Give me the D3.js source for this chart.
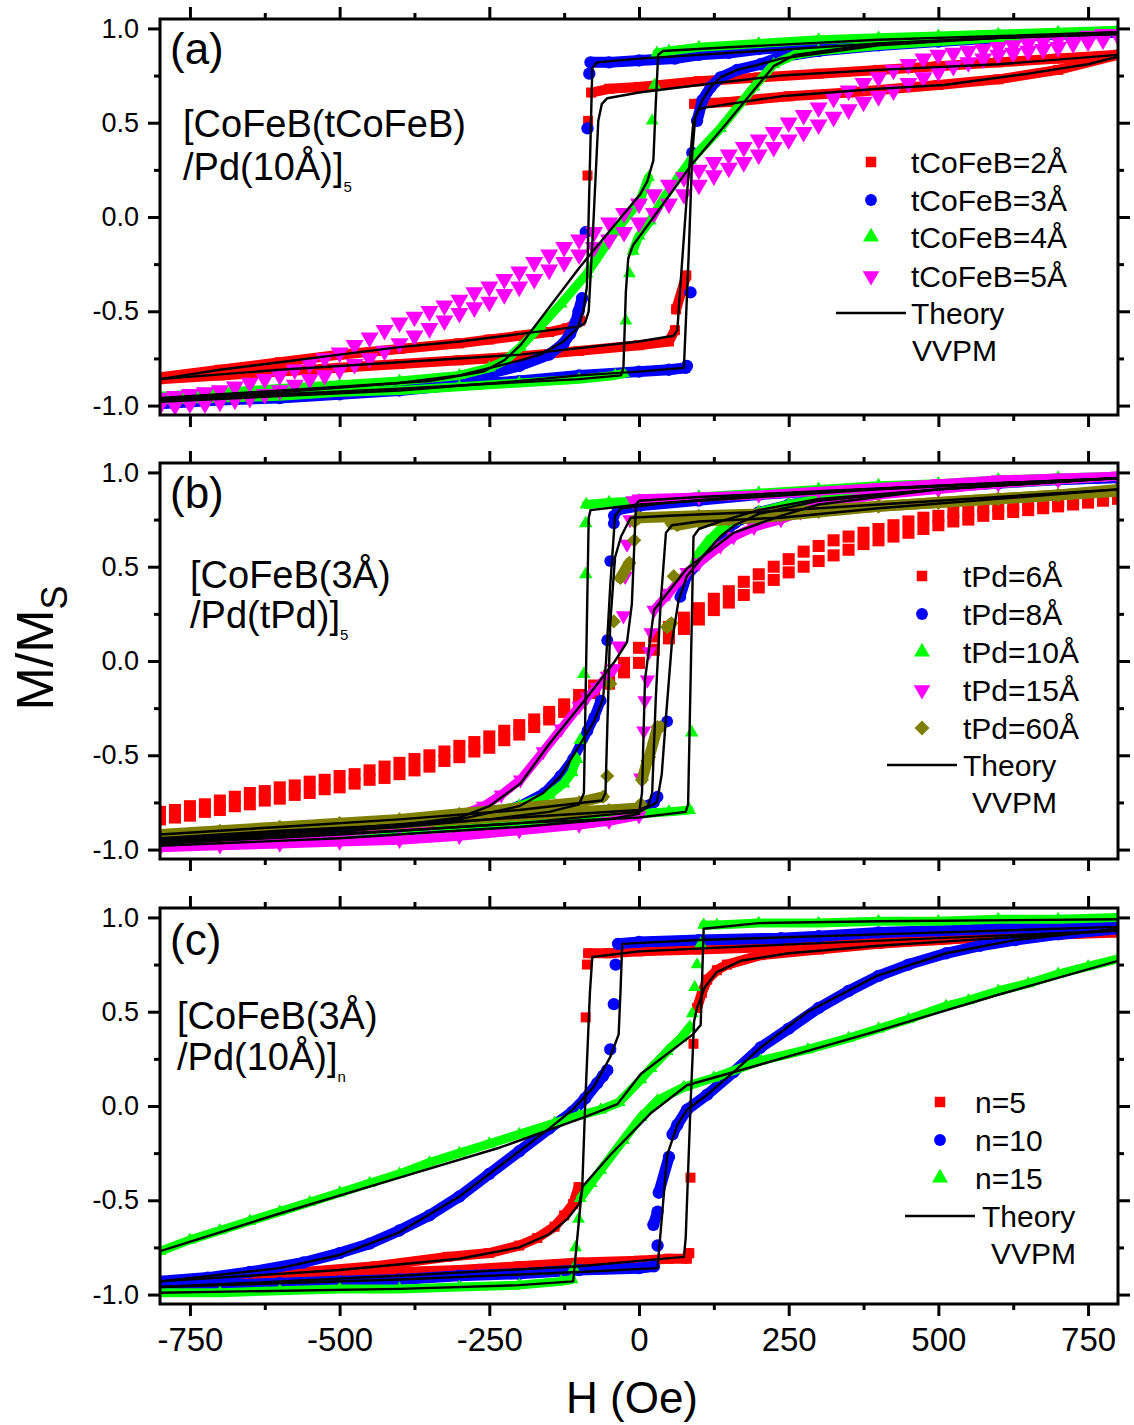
<!DOCTYPE html>
<html><head><meta charset="utf-8">
<script src="https://cdn.jsdelivr.net/npm/d3@7"></script>
<style>
body{margin:0;background:#fff}
svg{display:block}
text{font-family:"Liberation Sans",Arial,Helvetica,sans-serif;fill:#000}
</style>
</head><body><svg id="chart" width="1134" height="1425"></svg>
<script>
// ---------- axis / tick values ----------
const xTickValues = [-750,-500,-250,0,250,500,750];
const xTickLabels = ["-750","-500","-250","0","250","500","750"];
const xMinorValues = [-625,-375,-125,125,375,625];
const yTickValues = [-1.0,-0.5,0.0,0.5,1.0];
const yTickLabels = ["-1.0","-0.5","0.0","0.5","1.0"];
const yMinorValues = [-0.75,-0.25,0.25,0.75];

// ---------- field grid for sparsely sampled sets (Oe) ----------
const hGrid25 = [-800,-775,-750,-725,-700,-675,-650,-625,-600,-575,-550,-525,-500,
 -475,-450,-425,-400,-375,-350,-325,-300,-275,-250,-225,-200,-175,
 -150,-125,-100,-75,-50,-25,0,25,50,75,100,125,150,
 175,200,225,250,275,300,325,350,375,400,425,450,475,
 500,525,550,575,600,625,650,675,700,725,750,775,800];

// ---------- panel (a): [CoFeB(tCoFeB)/Pd(10Å)]5 ----------
const aRedDesc = [[800,0.86],[700,0.84],[600,0.82],[500,0.80],[400,0.78],[300,0.76],[200,0.74],[100,0.72],[0,0.69],[-50,0.68],[-80,0.66],[-85,0.51],[-86,0.22],[-98,-0.55],[-120,-0.59],[-150,-0.61],[-200,-0.63],[-250,-0.65],[-300,-0.67],[-400,-0.70],[-500,-0.73],[-600,-0.77],[-700,-0.81],[-800,-0.85]];
const aRedAsc = [[-800,-0.86],[-700,-0.84],[-600,-0.82],[-500,-0.80],[-400,-0.78],[-300,-0.76],[-200,-0.74],[-100,-0.71],[0,-0.68],[50,-0.66],[60,-0.60],[62,-0.49],[79,-0.31],[92,0.60],[150,0.61],[250,0.64],[350,0.66],[500,0.70],[600,0.73],[700,0.78],[800,0.86]];
const aBlueDesc = [[800,0.98],[700,0.97],[600,0.96],[500,0.94],[400,0.93],[300,0.91],[250,0.90],[200,0.89],[150,0.87],[100,0.86],[60,0.84],[0,0.83],[-50,0.82],[-81,0.82],[-83,0.76],[-86,0.47],[-89,-0.08],[-95,-0.43],[-101,-0.50],[-106,-0.56],[-115,-0.62],[-126,-0.67],[-150,-0.73],[-200,-0.79],[-250,-0.83],[-300,-0.86],[-400,-0.89],[-500,-0.91],[-600,-0.93],[-700,-0.95],[-800,-0.97]];
const aBlueAsc = [[-800,-0.99],[-700,-0.97],[-600,-0.96],[-500,-0.94],[-400,-0.92],[-300,-0.89],[-200,-0.87],[-100,-0.84],[0,-0.82],[50,-0.81],[78,-0.80],[80,-0.79],[86,-0.40],[89,0.34],[97,0.51],[106,0.62],[120,0.69],[136,0.74],[164,0.78],[203,0.81],[237,0.85],[300,0.88],[400,0.91],[500,0.93],[600,0.95],[700,0.97],[800,0.98]];
const aGreenDesc = [[800,0.99],[700,0.98],[600,0.97],[500,0.96],[400,0.95],[300,0.94],[200,0.92],[100,0.90],[50,0.88],[30,0.87],[26,0.70],[22,0.51],[16,0.21],[2,0.09],[-40,-0.08],[-87,-0.30],[-130,-0.46],[-165,-0.58],[-198,-0.69],[-223,-0.76],[-250,-0.80],[-300,-0.84],[-400,-0.87],[-500,-0.89],[-600,-0.91],[-700,-0.93],[-800,-0.95]];
const aGreenAsc = [[-800,-0.97],[-700,-0.96],[-600,-0.95],[-500,-0.93],[-400,-0.92],[-300,-0.90],[-200,-0.88],[-100,-0.86],[-40,-0.84],[-26,-0.83],[-22,-0.55],[-16,-0.30],[-10,-0.18],[0,-0.10],[19,-0.02],[41,0.10],[86,0.30],[136,0.47],[192,0.69],[225,0.81],[260,0.86],[300,0.88],[400,0.91],[500,0.93],[600,0.95],[700,0.97],[800,0.99]];
const aMagDescM = [-0.96,-0.95,-0.94,-0.93,-0.92,-0.90,-0.88,-0.86,-0.84,-0.81,-0.78,-0.75,-0.72,
 -0.68,-0.64,-0.60,-0.56,-0.53,-0.50,-0.47,-0.44,-0.40,-0.37,-0.33,-0.29,-0.24,
 -0.20,-0.16,-0.12,-0.08,-0.03,0.02,0.07,0.12,0.17,0.21,0.25,0.29,0.33,
 0.37,0.41,0.45,0.50,0.54,0.58,0.63,0.67,0.71,0.74,0.78,0.81,0.84,
 0.86,0.87,0.88,0.89,0.90,0.91,0.92,0.93,0.94,0.95,0.96,0.97,0.97];
const aMagAscM = [-1.00,-1.00,-0.99,-0.99,-0.98,-0.97,-0.96,-0.94,-0.92,-0.89,-0.86,-0.84,-0.81,
 -0.78,-0.75,-0.71,-0.67,-0.63,-0.59,-0.55,-0.51,-0.48,-0.45,-0.41,-0.37,-0.33,
 -0.28,-0.24,-0.20,-0.16,-0.12,-0.08,-0.03,0.02,0.07,0.12,0.17,0.22,0.26,
 0.29,0.33,0.37,0.41,0.45,0.49,0.53,0.57,0.61,0.64,0.67,0.71,0.74,
 0.77,0.80,0.82,0.84,0.86,0.87,0.88,0.89,0.90,0.92,0.93,0.94,0.96];
// VVPM theory, panel (a)
const aRedThDesc = [[800,0.86],[600,0.81],[400,0.78],[237,0.75],[100,0.70],[0,0.66],[-53,0.63],[-62,0.60],[-68,0.51],[-76,-0.02],[-84,-0.50],[-90,-0.56],[-98,-0.58],[-198,-0.62],[-300,-0.66],[-400,-0.69],[-500,-0.73],[-600,-0.77],[-700,-0.81],[-800,-0.86]];
const aRedThAsc = [[-800,-0.86],[-600,-0.81],[-400,-0.77],[-198,-0.73],[0,-0.66],[58,-0.63],[64,-0.60],[69,-0.37],[81,0.16],[91,0.51],[100,0.57],[110,0.58],[237,0.64],[400,0.68],[509,0.70],[650,0.76],[750,0.81],[800,0.85]];
const aBlueThDesc = [[800,0.97],[600,0.95],[400,0.92],[200,0.88],[100,0.86],[0,0.84],[-70,0.82],[-78,0.79],[-87,-0.37],[-93,-0.50],[-103,-0.59],[-126,-0.66],[-165,-0.73],[-198,-0.76],[-300,-0.84],[-400,-0.88],[-600,-0.93],[-800,-0.97]];
const aBlueThAsc = [[-800,-0.98],[-600,-0.95],[-400,-0.92],[-200,-0.87],[-100,-0.84],[0,-0.82],[75,-0.80],[83,-0.20],[89,0.34],[94,0.53],[106,0.62],[120,0.69],[136,0.74],[164,0.78],[203,0.81],[237,0.84],[400,0.91],[600,0.95],[800,0.97]];
const aGreenThDesc = [[800,0.98],[400,0.94],[150,0.90],[40,0.88],[32,0.86],[28,0.60],[24,0.30],[14,0.19],[2,0.12],[-40,-0.04],[-100,-0.27],[-198,-0.68],[-225,-0.76],[-260,-0.82],[-350,-0.87],[-800,-0.96]];
const aGreenThAsc = [[-800,-0.97],[-400,-0.91],[-100,-0.86],[-30,-0.84],[-26,-0.80],[-22,-0.40],[-18,-0.22],[-10,-0.15],[20,-0.02],[86,0.27],[150,0.51],[225,0.80],[260,0.86],[400,0.92],[800,0.98]];

// ---------- panel (b): [CoFeB(3Å)/Pd(tPd)]5 ----------
const bRedDescM = [-0.80,-0.79,-0.77,-0.76,-0.74,-0.72,-0.70,-0.69,-0.67,-0.66,-0.64,-0.63,-0.61,
 -0.60,-0.58,-0.56,-0.54,-0.52,-0.50,-0.48,-0.45,-0.43,-0.40,-0.37,-0.34,-0.31,
 -0.27,-0.23,-0.18,-0.13,-0.08,-0.01,0.07,0.13,0.18,0.23,0.28,0.33,0.37,
 0.42,0.46,0.50,0.54,0.58,0.61,0.64,0.66,0.68,0.70,0.72,0.74,0.76,
 0.77,0.79,0.80,0.81,0.82,0.83,0.84,0.84,0.85,0.85,0.86,0.87,0.88];
const bRedAscM = [-0.84,-0.83,-0.82,-0.80,-0.79,-0.77,-0.76,-0.74,-0.73,-0.71,-0.70,-0.68,-0.67,
 -0.65,-0.63,-0.62,-0.60,-0.58,-0.56,-0.53,-0.51,-0.48,-0.46,-0.42,-0.39,-0.35,
 -0.31,-0.27,-0.22,-0.17,-0.12,-0.06,-0.01,0.06,0.12,0.17,0.22,0.27,0.31,
 0.35,0.39,0.43,0.47,0.50,0.53,0.56,0.59,0.62,0.64,0.66,0.68,0.70,
 0.72,0.74,0.75,0.77,0.78,0.79,0.80,0.81,0.82,0.83,0.84,0.85,0.86];
const bBlueDesc = [[800,0.97],[700,0.96],[600,0.95],[500,0.93],[400,0.92],[300,0.90],[200,0.88],[100,0.85],[0,0.82],[-35,0.80],[-42,0.77],[-42,0.73],[-48,0.53],[-53,0.11],[-64,-0.21],[-75,-0.30],[-86,-0.37],[-110,-0.52],[-131,-0.61],[-158,-0.70],[-200,-0.77],[-250,-0.81],[-300,-0.84],[-400,-0.87],[-500,-0.89],[-600,-0.91],[-700,-0.93],[-800,-0.95]];
const bBlueAsc = [[-800,-0.97],[-700,-0.95],[-600,-0.93],[-500,-0.91],[-400,-0.89],[-300,-0.87],[-200,-0.85],[-100,-0.82],[0,-0.78],[25,-0.75],[31,-0.72],[47,-0.32],[69,0.34],[80,0.45],[108,0.55],[136,0.66],[160,0.73],[200,0.79],[250,0.83],[300,0.86],[400,0.89],[500,0.92],[600,0.94],[700,0.96],[800,0.97]];
const bGreenDesc = [[800,0.98],[700,0.97],[600,0.96],[500,0.94],[400,0.93],[300,0.91],[200,0.89],[100,0.87],[0,0.85],[-50,0.84],[-88,0.83],[-89,0.73],[-89,0.46],[-92,-0.07],[-98,-0.42],[-104,-0.52],[-112,-0.59],[-126,-0.65],[-150,-0.71],[-200,-0.77],[-250,-0.80],[-300,-0.83],[-400,-0.86],[-500,-0.89],[-600,-0.91],[-700,-0.93],[-800,-0.95]];
const bGreenAsc = [[-800,-0.97],[-700,-0.95],[-600,-0.93],[-500,-0.91],[-400,-0.89],[-300,-0.87],[-200,-0.85],[-100,-0.83],[0,-0.81],[50,-0.80],[84,-0.79],[88,-0.38],[93,0.52],[100,0.57],[114,0.63],[136,0.70],[158,0.74],[200,0.79],[250,0.83],[300,0.86],[400,0.89],[500,0.92],[600,0.94],[700,0.96],[800,0.98]];
const bMagDesc = [[800,0.98],[700,0.97],[600,0.96],[500,0.94],[400,0.92],[300,0.90],[200,0.88],[100,0.87],[0,0.86],[-10,0.85],[-15,0.75],[-20,0.62],[-23,0.45],[-26,0.24],[-34,0.08],[-42,-0.04],[-53,-0.08],[-70,-0.14],[-86,-0.19],[-100,-0.24],[-130,-0.36],[-160,-0.48],[-198,-0.63],[-230,-0.71],[-260,-0.77],[-300,-0.82],[-350,-0.86],[-400,-0.88],[-500,-0.91],[-600,-0.93],[-700,-0.94],[-800,-0.96]];
const bMagAsc = [[-800,-0.99],[-700,-0.98],[-600,-0.97],[-500,-0.96],[-400,-0.95],[-300,-0.93],[-200,-0.90],[-100,-0.87],[-50,-0.85],[0,-0.82],[3,-0.62],[8,-0.37],[10,-0.21],[14,-0.10],[17,0.05],[20,0.15],[25,0.27],[50,0.36],[80,0.47],[100,0.52],[136,0.61],[158,0.66],[192,0.71],[237,0.75],[270,0.79],[300,0.83],[400,0.88],[500,0.91],[600,0.94],[700,0.96],[800,0.98]];
const bOliveDesc = [[800,0.90],[700,0.88],[600,0.86],[500,0.84],[400,0.82],[300,0.80],[200,0.78],[100,0.77],[0,0.76],[-8,0.74],[-8,0.64],[-16,0.52],[-31,0.44],[-42,0.21],[-48,-0.12],[-53,-0.61],[-60,-0.72],[-100,-0.75],[-200,-0.78],[-300,-0.81],[-400,-0.84],[-500,-0.86],[-600,-0.88],[-700,-0.90],[-800,-0.92]];
const bOliveAsc = [[-800,-0.94],[-700,-0.92],[-600,-0.90],[-500,-0.88],[-400,-0.86],[-300,-0.84],[-200,-0.82],[-100,-0.80],[-50,-0.79],[0,-0.78],[3,-0.76],[5,-0.63],[14,-0.53],[17,-0.51],[31,-0.35],[36,-0.35],[47,0.18],[54,0.20],[58,0.45],[54,0.73],[64,0.72],[100,0.74],[150,0.75],[237,0.77],[300,0.79],[400,0.82],[500,0.84],[600,0.86],[700,0.88],[800,0.91]];
// VVPM theory, panel (b)
const bBlueThDesc = [[800,0.97],[500,0.93],[200,0.88],[50,0.84],[-30,0.81],[-40,0.77],[-48,0.40],[-55,0.0],[-60,-0.20],[-75,-0.32],[-100,-0.45],[-131,-0.61],[-160,-0.70],[-200,-0.77],[-300,-0.84],[-500,-0.89],[-800,-0.95]];
const bBlueThAsc = [[-800,-0.97],[-500,-0.92],[-200,-0.86],[0,-0.80],[30,-0.75],[38,-0.60],[45,-0.30],[55,0.10],[66,0.32],[80,0.45],[108,0.56],[136,0.66],[160,0.72],[200,0.78],[300,0.85],[500,0.91],[800,0.97]];
const bGreenThDesc = [[800,0.97],[600,0.94],[400,0.91],[200,0.87],[0,0.83],[-81,0.80],[-84,0.76],[-92,-0.70],[-100,-0.76],[-150,-0.80],[-250,-0.84],[-400,-0.88],[-600,-0.92],[-800,-0.95]];
const bGreenThAsc = [[-800,-0.97],[-600,-0.93],[-400,-0.90],[-200,-0.86],[0,-0.83],[78,-0.80],[82,-0.76],[91,0.66],[100,0.70],[136,0.74],[200,0.80],[300,0.86],[500,0.91],[800,0.97]];
const bMagThDesc = [[800,0.97],[500,0.93],[300,0.90],[100,0.87],[0,0.85],[-5,0.83],[-12,0.30],[-20,0.10],[-40,0.0],[-86,-0.19],[-150,-0.44],[-198,-0.65],[-250,-0.77],[-300,-0.83],[-500,-0.91],[-800,-0.96]];
const bMagThAsc = [[-800,-0.98],[-500,-0.94],[-200,-0.88],[-50,-0.84],[0,-0.81],[5,-0.70],[10,-0.10],[25,0.27],[80,0.49],[158,0.68],[237,0.77],[300,0.83],[500,0.91],[800,0.97]];
const bOliveThDesc = [[800,0.91],[600,0.87],[400,0.83],[200,0.79],[50,0.77],[-14,0.76],[-30,0.66],[-40,0.55],[-48,0.20],[-56,-0.70],[-62,-0.74],[-200,-0.79],[-400,-0.84],[-600,-0.88],[-800,-0.92]];
const bOliveThAsc = [[-800,-0.94],[-600,-0.90],[-400,-0.87],[-200,-0.83],[0,-0.79],[15,-0.77],[22,-0.70],[28,-0.20],[36,0.30],[45,0.68],[55,0.72],[100,0.74],[237,0.76],[400,0.81],[600,0.86],[800,0.91]];

// ---------- panel (c): [CoFeB(3Å)/Pd(10Å)]n ----------
const cRedDesc = [[800,0.93],[700,0.91],[600,0.90],[500,0.88],[400,0.87],[300,0.85],[200,0.84],[100,0.83],[0,0.82],[-50,0.81],[-85,0.81],[-87,0.75],[-89,0.47],[-101,-0.43],[-110,-0.52],[-125,-0.58],[-141,-0.64],[-170,-0.70],[-200,-0.74],[-250,-0.78],[-320,-0.80],[-440,-0.85],[-560,-0.88],[-680,-0.91],[-800,-0.94]];
const cRedAsc = [[-800,-0.96],[-700,-0.94],[-600,-0.92],[-500,-0.90],[-400,-0.88],[-300,-0.87],[-200,-0.85],[-100,-0.83],[0,-0.82],[50,-0.81],[80,-0.81],[84,-0.78],[86,-0.38],[91,0.33],[97,0.52],[105,0.60],[114,0.67],[130,0.72],[147,0.75],[203,0.80],[300,0.83],[400,0.86],[500,0.88],[600,0.90],[700,0.91],[800,0.92]];
const cBlueDesc = [[800,0.96],[700,0.95],[600,0.94],[500,0.93],[400,0.92],[300,0.90],[237,0.89],[100,0.88],[0,0.87],[-35,0.86],[-39,0.75],[-42,0.54],[-48,0.30],[-53,0.19],[-60,0.16],[-70,0.12],[-90,0.04],[-111,-0.03],[-150,-0.12],[-200,-0.24],[-250,-0.36],[-300,-0.48],[-350,-0.58],[-400,-0.66],[-450,-0.73],[-500,-0.78],[-560,-0.83],[-650,-0.88],[-720,-0.91],[-800,-0.93]];
const cBlueAsc = [[-800,-0.96],[-700,-0.95],[-600,-0.94],[-500,-0.93],[-400,-0.92],[-300,-0.90],[-200,-0.89],[-100,-0.87],[0,-0.86],[25,-0.85],[31,-0.74],[24,-0.63],[31,-0.56],[33,-0.46],[50,-0.27],[56,-0.15],[64,-0.10],[80,-0.02],[114,0.06],[158,0.18],[203,0.31],[250,0.41],[300,0.52],[350,0.61],[400,0.69],[450,0.75],[513,0.81],[570,0.85],[628,0.88],[700,0.91],[800,0.94]];
const cGreenDesc = [[800,1.00],[700,0.99],[600,0.99],[500,0.98],[400,0.98],[300,0.97],[200,0.97],[130,0.96],[108,0.96],[103,0.86],[97,0.75],[93,0.63],[89,0.49],[85,0.42],[70,0.36],[47,0.29],[20,0.20],[3,0.14],[-33,0.02],[-64,-0.02],[-100,-0.05],[-141,-0.09],[-200,-0.15],[-250,-0.20],[-300,-0.25],[-350,-0.30],[-400,-0.36],[-450,-0.41],[-500,-0.46],[-550,-0.51],[-600,-0.56],[-650,-0.61],[-700,-0.66],[-750,-0.71],[-800,-0.77]];
const cGreenAsc = [[-800,-0.99],[-700,-0.99],[-600,-0.98],[-500,-0.97],[-400,-0.97],[-300,-0.96],[-200,-0.95],[-130,-0.93],[-112,-0.92],[-109,-0.86],[-106,-0.75],[-101,-0.60],[-98,-0.49],[-80,-0.41],[-64,-0.34],[-26,-0.18],[3,-0.06],[31,0.03],[75,0.10],[125,0.15],[203,0.24],[282,0.30],[350,0.36],[400,0.41],[450,0.46],[513,0.53],[550,0.56],[600,0.61],[650,0.65],[700,0.70],[750,0.74],[800,0.78]];
// VVPM theory, panel (c)
const cRedThDesc = [[800,0.93],[500,0.89],[200,0.85],[0,0.82],[-78,0.79],[-82,0.60],[-90,0.0],[-95,-0.45],[-100,-0.52],[-120,-0.60],[-150,-0.68],[-200,-0.75],[-300,-0.81],[-500,-0.87],[-800,-0.93]];
const cRedThAsc = [[-800,-0.96],[-400,-0.90],[-100,-0.85],[75,-0.80],[78,-0.70],[86,0.0],[92,0.45],[97,0.52],[110,0.63],[130,0.71],[170,0.77],[250,0.81],[400,0.85],[600,0.89],[800,0.93]];
const cBlueThDesc = [[800,0.95],[400,0.91],[100,0.88],[-28,0.86],[-31,0.60],[-34,0.38],[-48,0.26],[-76,0.10],[-111,-0.02],[-150,-0.12],[-200,-0.24],[-300,-0.48],[-400,-0.67],[-500,-0.79],[-600,-0.86],[-800,-0.93]];
const cBlueThAsc = [[-800,-0.96],[-400,-0.92],[-100,-0.88],[31,-0.86],[47,-0.26],[64,-0.10],[80,-0.02],[114,0.06],[158,0.18],[203,0.31],[282,0.50],[397,0.69],[513,0.81],[628,0.88],[800,0.94]];
const cGreenThDesc = [[800,0.99],[400,0.98],[200,0.97],[108,0.94],[103,0.43],[90,0.38],[3,0.17],[-36,0.01],[-92,-0.06],[-232,-0.22],[-400,-0.38],[-600,-0.57],[-800,-0.77]];
const cGreenThAsc = [[-800,-0.99],[-400,-0.97],[-200,-0.95],[-110,-0.93],[-95,-0.43],[-48,-0.26],[19,-0.04],[80,0.11],[203,0.22],[400,0.40],[600,0.59],[800,0.77]];

// ---------- legends ----------
const aLegend = ["tCoFeB=2Å","tCoFeB=3Å","tCoFeB=4Å","tCoFeB=5Å"];
const bLegend = ["tPd=6Å","tPd=8Å","tPd=10Å","tPd=15Å","tPd=60Å"];
const cLegend = ["n=5","n=10","n=15"];

// ================= drawing =================
const RED="#ff0000", BLUE="#0000ff", GREEN="#00ff00", MAG="#ff00ff", OLIVE="#808000";
const gridPairs = (ms) => hGrid25.map((h,i)=>[h, ms[i]]);

const svg = d3.select("#chart");
const x = d3.scaleLinear().domain([-800,800]).range([160,1118]);
const PH = 396;

const shapes = {
  square:{type:d3.symbolSquare, rot:0},
  circle:{type:d3.symbolCircle, rot:0},
  triangle:{type:d3.symbolTriangle, rot:0},
  down:{type:d3.symbolTriangle, rot:180},
  diamond:{type:d3.symbolSquare, rot:45}
};

const panels = [
 {top:19, label:"(a)", labY:64, ann:["[CoFeB(tCoFeB)","/Pd(10Å)]","5"], annX:183, annY:[137,180,192],
  legend:{mx:871, tx:911, rows:[162,200,237,276], lineX:[836,906], thX:911, thY:313, vvX:912, vvY:350},
  series:[
   {name:aLegend[0], color:RED, shape:"square", size:100, band:10, data:[aRedDesc,aRedAsc], th:[aRedThDesc,aRedThAsc]},
   {name:aLegend[1], color:BLUE, shape:"circle", size:120, band:11, data:[aBlueDesc,aBlueAsc], th:[aBlueThDesc,aBlueThAsc]},
   {name:aLegend[2], color:GREEN, shape:"triangle", size:72, band:9, data:[aGreenDesc,aGreenAsc], th:[aGreenThDesc,aGreenThAsc]},
   {name:aLegend[3], color:MAG, shape:"down", size:140, band:0, data:[gridPairs(aMagDescM),gridPairs(aMagAscM)], th:[]}
  ]},
 {top:463, label:"(b)", labY:508, ann:["[CoFeB(3Å)","/Pd(tPd)]","5"], annX:190, annY:[588,628,640],
  legend:{mx:922, tx:963, rows:[576,614,652,690,728], lineX:[887,957], thX:963, thY:765, vvX:972, vvY:802},
  series:[
   {name:bLegend[0], color:RED, shape:"square", size:145, band:0, data:[gridPairs(bRedDescM),gridPairs(bRedAscM)], th:[]},
   {name:bLegend[1], color:BLUE, shape:"circle", size:110, band:10, data:[bBlueDesc,bBlueAsc], th:[bBlueThDesc,bBlueThAsc]},
   {name:bLegend[2], color:GREEN, shape:"triangle", size:80, band:9, data:[bGreenDesc,bGreenAsc], th:[bGreenThDesc,bGreenThAsc]},
   {name:bLegend[3], color:MAG, shape:"down", size:100, band:9, data:[bMagDesc,bMagAsc], th:[bMagThDesc,bMagThAsc]},
   {name:bLegend[4], color:OLIVE, shape:"diamond", size:100, band:11, data:[bOliveDesc,bOliveAsc], th:[bOliveThDesc,bOliveThAsc]}
  ]},
 {top:908, label:"(c)", labY:955, ann:["[CoFeB(3Å)","/Pd(10Å)]","n"], annX:177, annY:[1029,1070,1082],
  legend:{mx:940, tx:975, rows:[1102,1140,1178], lineX:[905,975], thX:982, thY:1216, vvX:991, vvY:1253},
  series:[
   {name:cLegend[0], color:RED, shape:"square", size:100, band:10, data:[cRedDesc,cRedAsc], th:[cRedThDesc,cRedThAsc]},
   {name:cLegend[1], color:BLUE, shape:"circle", size:120, band:11, data:[cBlueDesc,cBlueAsc], th:[cBlueThDesc,cBlueThAsc]},
   {name:cLegend[2], color:GREEN, shape:"triangle", size:72, band:9, data:[cGreenDesc,cGreenAsc], th:[cGreenThDesc,cGreenThAsc]}
  ]}
];

function symbolPath(shape, size){ return d3.symbol().type(shapes[shape].type).size(size)(); }

panels.forEach((p, pi) => {
  const y = d3.scaleLinear().domain([-1.05,1.05]).range([p.top+PH, p.top]);
  const g = svg.append("g");
  const clipId = "clip"+pi;
  svg.append("clipPath").attr("id", clipId).append("rect")
     .attr("x", 160).attr("y", p.top).attr("width", 958).attr("height", PH);
  const plot = g.append("g").attr("clip-path", `url(#${clipId})`);

  // data sets
  p.series.forEach(s => {
    const sg = plot.append("g");
    s.data.forEach(branch => {
      if (s.band > 0) {
        let d = "";
        for (let i=1;i<branch.length;i++){
          const x0=x(branch[i-1][0]), y0=y(branch[i-1][1]), x1=x(branch[i][0]), y1=y(branch[i][1]);
          if (Math.abs(y1-y0) <= 4*Math.abs(x1-x0)+3) d += `M${x0},${y0}L${x1},${y1}`;
        }
        sg.append("path").attr("d", d).attr("fill","none").attr("stroke", s.color)
          .attr("stroke-width", s.band).attr("stroke-linecap","round").attr("stroke-linejoin","round");
      }
      sg.selectAll(null).data(branch).join("path")
        .attr("d", symbolPath(s.shape, s.size))
        .attr("transform", d => `translate(${x(d[0])},${y(d[1])}) rotate(${shapes[s.shape].rot})`)
        .attr("fill", s.color);
    });
  });
  // theory curves
  const line = d3.line().x(d=>x(d[0])).y(d=>y(d[1]));
  p.series.forEach(s => s.th.forEach(t => {
    plot.append("path").attr("d", line(t)).attr("fill","none").attr("stroke","#000")
      .attr("stroke-width",2.4).attr("stroke-linejoin","round");
  }));

  // axes (ticks outward on all sides)
  const bottom = p.top+PH;
  const isLast = pi === panels.length-1;
  const styleAxis = sel => { sel.select(".domain").remove(); sel.selectAll("line").attr("stroke","#000").attr("stroke-width",3); };
  g.append("g").attr("transform",`translate(0,${bottom})`)
    .call(d3.axisBottom(x).tickValues(xTickValues).tickSize(12).tickPadding(12)
      .tickFormat((d,i)=> isLast ? xTickLabels[i] : ""))
    .call(styleAxis).call(sel=>sel.selectAll("text").attr("font-size",33).attr("font-family",'"Liberation Sans",Arial,sans-serif'));
  g.append("g").attr("transform",`translate(0,${bottom})`)
    .call(d3.axisBottom(x).tickValues(xMinorValues).tickSize(6).tickFormat("")).call(styleAxis);
  g.append("g").attr("transform",`translate(0,${p.top})`)
    .call(d3.axisTop(x).tickValues(xTickValues).tickSize(12).tickFormat("")).call(styleAxis);
  g.append("g").attr("transform",`translate(0,${p.top})`)
    .call(d3.axisTop(x).tickValues(xMinorValues).tickSize(6).tickFormat("")).call(styleAxis);
  g.append("g").attr("transform",`translate(160,0)`)
    .call(d3.axisLeft(y).tickValues(yTickValues).tickSize(12).tickPadding(9).tickFormat((d,i)=>yTickLabels[i]))
    .call(styleAxis).call(sel=>sel.selectAll("text").attr("font-size",27).attr("font-family",'"Liberation Sans",Arial,sans-serif'));
  g.append("g").attr("transform",`translate(160,0)`)
    .call(d3.axisLeft(y).tickValues(yMinorValues).tickSize(6).tickFormat("")).call(styleAxis);
  g.append("g").attr("transform",`translate(1118,0)`)
    .call(d3.axisRight(y).tickValues(yTickValues).tickSize(12).tickFormat("")).call(styleAxis);
  g.append("g").attr("transform",`translate(1118,0)`)
    .call(d3.axisRight(y).tickValues(yMinorValues).tickSize(6).tickFormat("")).call(styleAxis);

  // frame
  g.append("rect").attr("x",160).attr("y",p.top).attr("width",958).attr("height",PH)
    .attr("fill","none").attr("stroke","#000").attr("stroke-width",3);

  // panel label & annotation
  g.append("text").attr("x",170).attr("y",p.labY).attr("font-size",44).text(p.label);
  g.append("text").attr("x",p.annX).attr("y",p.annY[0]).attr("font-size",38).text(p.ann[0]);
  const t2 = g.append("text").attr("x",p.annX).attr("y",p.annY[1]).attr("font-size",38);
  t2.append("tspan").text(p.ann[1]);
  t2.append("tspan").attr("font-size",15).attr("dy",p.annY[2]-p.annY[1]).text(p.ann[2]);

  // legend
  const L = p.legend;
  p.series.forEach((s,i) => {
    const ly = L.rows[i];
    g.append("path").attr("d", symbolPath(s.shape, s.shape==="down"?120:110))
      .attr("transform",`translate(${L.mx},${ly}) rotate(${shapes[s.shape].rot})`).attr("fill", s.color);
    g.append("text").attr("x",L.tx).attr("y",ly+10.5).attr("font-size",30).text(s.name);
  });
  g.append("line").attr("x1",L.lineX[0]).attr("x2",L.lineX[1]).attr("y1",L.thY).attr("y2",L.thY)
    .attr("stroke","#000").attr("stroke-width",2.4);
  g.append("text").attr("x",L.thX).attr("y",L.thY+10.5).attr("font-size",30).text("Theory");
  g.append("text").attr("x",L.vvX).attr("y",L.vvY+10.5).attr("font-size",30).text("VVPM");
});

// axis titles
svg.append("text").attr("x",632).attr("y",1413).attr("text-anchor","middle").attr("font-size",44).text("H (Oe)");
const yl = svg.append("text").attr("transform","translate(53,648) rotate(-90)").attr("text-anchor","middle").attr("font-size",52);
yl.append("tspan").text("M/M");
yl.append("tspan").attr("font-size",36).attr("dy",14).text("S");
</script>
</body></html>
